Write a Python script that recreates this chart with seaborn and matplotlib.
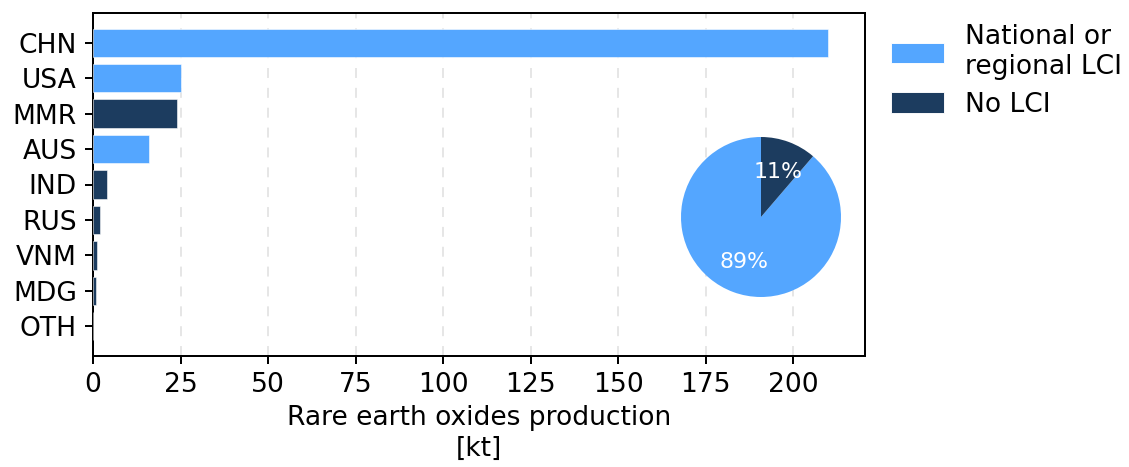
import matplotlib
matplotlib.use("Agg")
import matplotlib.pyplot as plt
import seaborn as sns
import pandas as pd
from matplotlib.patches import Patch

# Rare earth oxide production by country [kt] and availability of an LCI dataset
countries = ["CHN", "USA", "MMR", "AUS", "IND", "RUS", "VNM", "MDG", "OTH"]
production_kt = [210, 25, 24, 16, 4.1, 1.9, 1.1, 0.8, 0.0]
lci_status = [
    "National or regional LCI", "National or regional LCI", "No LCI",
    "National or regional LCI", "No LCI", "No LCI", "No LCI", "No LCI", "No LCI",
]
group_order = ["National or regional LCI", "No LCI"]
group_colors = {"National or regional LCI": "#54A6FF", "No LCI": "#1C3C5F"}

df = pd.DataFrame({"country": countries, "production": production_kt, "lci": lci_status})
shares = df.groupby("lci")["production"].sum().reindex(group_order)

FS = 14.7
sns.set_style("ticks")
plt.rcParams.update({
    "font.family": ["DejaVu Sans"],
    "font.size": FS,
    "text.color": "black",
    "axes.labelcolor": "black",
    "axes.linewidth": 1.1,
    "xtick.major.width": 1.1,
    "ytick.major.width": 1.1,
    "xtick.color": "black",
    "ytick.color": "black",
    "axes.edgecolor": "black",
})

W, H, DPI = 1129, 467, 130
fig = plt.figure(figsize=(W / DPI, H / DPI), dpi=DPI)
ax = fig.add_axes([93 / W, 1 - 356 / H, (865 - 93) / W, (356 - 13) / H])

sns.barplot(
    data=df, x="production", y="country", hue="lci", order=countries,
    hue_order=group_order, palette=group_colors, dodge=False, width=0.8,
    saturation=1, edgecolor="white", linewidth=0.3, legend=False, ax=ax, zorder=3,
)
ax.set_ylim(len(countries) - 1 + 0.84, -0.84)
ax.set_xlim(0, df["production"].max() * 1.05)
ax.set_xticks(range(0, 201, 25))
ax.grid(axis="x", linestyle=(0, (5, 5)), color="#e6e6e6", linewidth=1.1, zorder=0)
ax.set_axisbelow(True)
ax.set_ylabel("")
ax.set_xlabel("Rare earth oxides production\n[kt]", fontsize=FS, labelpad=4)
ax.tick_params(axis="both", labelsize=FS, length=4.5, pad=4.5)
for side in ["top", "right", "left", "bottom"]:
    ax.spines[side].set_visible(True)
    ax.spines[side].set_color("black")

# Inset pie of the production share per LCI group
r = 1.02
size = 160 * r
cx, cy = 761, 217
ax_pie = fig.add_axes([(cx - size / 2) / W, 1 - (cy + size / 2) / H, size / W, size / H])
ax_pie.pie(
    shares.values, colors=[group_colors[g] for g in group_order],
    startangle=90, autopct="%1.0f%%", pctdistance=0.6,
    wedgeprops={"linewidth": 0, "edgecolor": "none"},
    textprops={"color": "white", "fontsize": 12.2},
)
ax_pie.set_xlim(-r, r)
ax_pie.set_ylim(-r, r)
ax_pie.set_aspect("equal")
ax_pie.axis("off")

handles = [Patch(facecolor=group_colors[g], edgecolor="white", linewidth=0.5) for g in group_order]
labels = ["National or\nregional LCI", "No LCI"]
fig.legend(handles, labels, loc="upper left", bbox_to_anchor=(867 / W, 1.0),
           frameon=False, fontsize=FS, handleheight=0.8, labelspacing=0.45)

fig.savefig("out.png", dpi=DPI)
